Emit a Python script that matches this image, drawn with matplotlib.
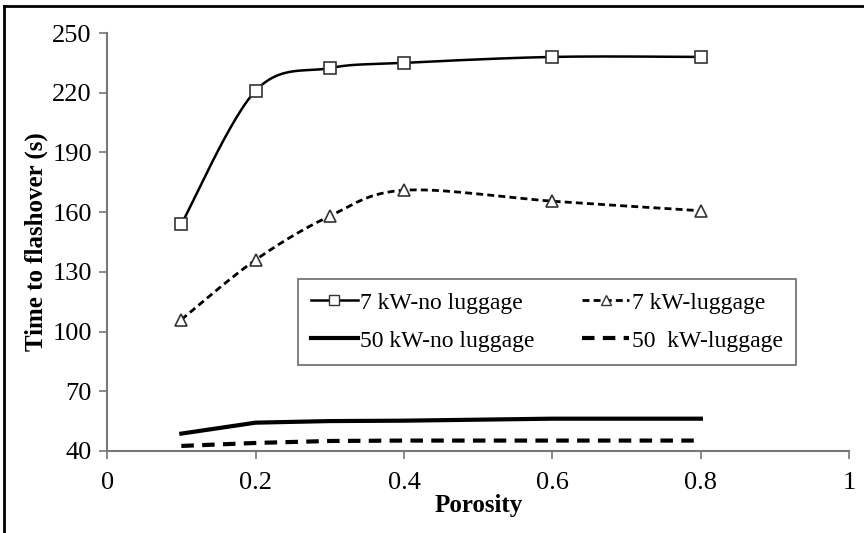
import matplotlib
matplotlib.use("Agg")
import matplotlib.pyplot as plt
from matplotlib.lines import Line2D
import numpy as np

plt.rcParams['font.family'] = ['Liberation Serif', 'DejaVu Serif']

porosity = [0.1, 0.2, 0.3, 0.4, 0.6, 0.8]
kw7_no_lug = [154, 221, 232.4, 235, 238, 238]
kw7_lug = [106, 136, 158, 171, 165.5, 160.7]
kw50_no_lug = [48.7, 54.2, 55, 55.2, 56.2, 56.2]
kw50_lug = [42.5, 44, 45, 45.2, 45.2, 45.2]

labels = ['7 kW-no luggage', '7 kW-luggage', '50 kW-no luggage', '50  kW-luggage']
xticks = [0, 0.2, 0.4, 0.6, 0.8, 1]
yticks = [40, 70, 100, 130, 160, 190, 220, 250]


def smooth(x, y, n=30):
    # excel-like smoothed line: cubic bezier with catmull-rom control points
    p = np.column_stack([x, y]).astype(float)
    pts = []
    for i in range(len(p) - 1):
        p0 = p[i - 1] if i > 0 else p[i]
        p3 = p[i + 2] if i + 2 < len(p) else p[i + 1]
        c1 = p[i] + (p[i + 1] - p0) / 6
        c2 = p[i + 1] - (p3 - p[i]) / 6
        t = np.linspace(0, 1, n)[:, None]
        seg = ((1 - t) ** 3) * p[i] + 3 * ((1 - t) ** 2) * t * c1 + 3 * (1 - t) * t ** 2 * c2 + t ** 3 * p[i + 1]
        pts.append(seg if i == 0 else seg[1:])
    pts = np.vstack(pts)
    return pts[:, 0], pts[:, 1]


fig = plt.figure(figsize=(8.64, 5.33), dpi=100)
ax = fig.add_axes([0.124, 0.154, 0.859, 0.784])

sx, sy = smooth(porosity, kw7_no_lug)
ax.plot(sx, sy, color='black', lw=1.8)
ax.plot(porosity, kw7_no_lug, ls='none', marker='s', ms=8, mfc='white', mec='#333333', mew=1.2)

sx, sy = smooth(porosity, kw7_lug)
ax.plot(sx, sy, color='black', lw=2, ls=(0, (2.5, 1.5)))
ax.plot(porosity, kw7_lug, ls='none', marker='^', ms=8, mfc='white', mec='#333333', mew=1.2)

ax.plot(porosity, kw50_no_lug, color='black', lw=3)
ax.plot(porosity, kw50_lug, color='black', lw=3, ls=(0, (3, 2)))

ax.set_xlim(0, 1)
ax.set_ylim(40, 250)
ax.set_xticks(xticks)
ax.set_xticklabels(['0', '0.2', '0.4', '0.6', '0.8', '1'])
ax.set_yticks(yticks)
ax.tick_params(direction='out', length=6, width=1.2, color='#777777', labelsize=19)
ax.tick_params(axis='x', pad=9)
ax.tick_params(axis='y', pad=5)
for s in ['top', 'right']:
    ax.spines[s].set_visible(False)
for s in ['left', 'bottom']:
    ax.spines[s].set_color('#777777')
    ax.spines[s].set_linewidth(1.5)

ax.set_xlabel('Porosity', fontsize=18, fontweight='bold', labelpad=0)
ax.set_ylabel('Time to flashover (s)', fontsize=18, fontweight='bold', labelpad=3)

handles = [
    Line2D([], [], color='black', lw=1.8, marker='s', ms=7, mfc='white', mec='#333333'),
    Line2D([], [], color='black', lw=3),
    Line2D([], [], color='black', lw=2, ls=(0, (2.5, 1.5)), marker='^', ms=7, mfc='white', mec='#333333'),
    Line2D([], [], color='black', lw=3, ls=(0, (3, 2))),
]
leg = ax.legend(handles, [labels[0], labels[2], labels[1], labels[3]], ncol=2,
                loc='upper left', bbox_to_anchor=(0.257, 0.411), borderaxespad=0,
                fontsize=17, frameon=True, fancybox=False, edgecolor='#444444',
                handlelength=2.0, handletextpad=0.1, columnspacing=2.0,
                borderpad=0.55, labelspacing=0.7, numpoints=1)
leg.get_frame().set_linewidth(1.2)

# frame lines on left and top of the figure
fig.add_artist(Line2D([0.005, 0.005], [0, 0.989], color='black', lw=2, transform=fig.transFigure))
fig.add_artist(Line2D([0.005, 1], [0.989, 0.989], color='black', lw=2, transform=fig.transFigure))

fig.savefig('out.png', dpi=100)
